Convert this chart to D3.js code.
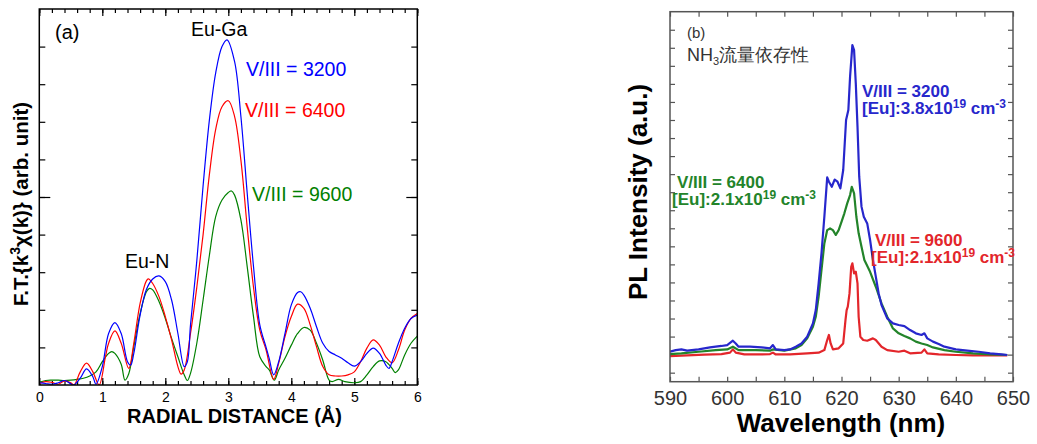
<!DOCTYPE html>
<html>
<head>
<meta charset="utf-8">
<script src="https://cdn.jsdelivr.net/npm/d3@7"></script>
<style>
  body { margin: 0; background: #fff; }
  svg { display: block; }
  text { font-family: "Liberation Sans", Arial, sans-serif; }
</style>
</head>
<body>
<div id="chart"></div>
<script>
// ---- panel (a) : EXAFS Fourier transform, [R (Å), F.T. amplitude] ----
var ftTicks = [0, 1, 2, 3, 4, 5, 6];
var ft3200 = [[0,0.06],[0.1,0.04],[0.2,0.02],[0.3,0.06],[0.4,0.12],[0.5,0.03],[0.55,0.0],[0.65,0.18],[0.75,0.43],[0.85,0.22],[0.9,0.02],[1.0,0.49],[1.1,1.37],[1.2,1.66],[1.3,1.37],[1.4,0.62],[1.45,0.53],[1.5,0.84],[1.6,1.86],[1.7,2.54],[1.8,2.82],[1.9,2.9],[2.0,2.75],[2.1,2.26],[2.2,1.37],[2.3,0.49],[2.35,0.62],[2.4,1.6],[2.5,3.3],[2.6,5.3],[2.7,7.05],[2.8,8.3],[2.9,9.0],[2.98,9.18],[3.1,8.6],[3.2,7.14],[3.3,5.1],[3.4,3.15],[3.5,1.6],[3.6,1.0],[3.65,0.7],[3.72,0.27],[3.8,0.62],[3.9,1.37],[4.0,2.13],[4.1,2.46],[4.15,2.48],[4.2,2.39],[4.3,2.04],[4.4,1.55],[4.5,1.11],[4.6,0.89],[4.7,0.8],[4.8,0.71],[4.9,0.59],[5.0,0.5],[5.1,0.62],[5.2,0.84],[5.3,0.98],[5.4,0.84],[5.5,0.53],[5.55,0.44],[5.6,0.62],[5.7,1.11],[5.8,1.51],[5.9,1.77],[6.0,1.86]];
var ft6400 = [[0,0.04],[0.1,0.09],[0.2,0.07],[0.3,0.02],[0.4,0.11],[0.5,0.06],[0.55,0.0],[0.65,0.35],[0.75,0.58],[0.85,0.35],[0.95,0.0],[1.05,0.75],[1.1,1.11],[1.2,1.44],[1.3,1.11],[1.42,0.44],[1.5,1.11],[1.6,2.17],[1.7,2.77],[1.73,2.82],[1.8,2.7],[1.9,2.35],[2.0,1.82],[2.1,1.2],[2.2,0.49],[2.25,0.29],[2.3,0.4],[2.4,1.37],[2.5,2.6],[2.6,4.0],[2.7,5.6],[2.8,6.8],[2.9,7.4],[3.0,7.56],[3.1,7.14],[3.2,5.98],[3.3,4.2],[3.4,2.6],[3.5,1.46],[3.6,0.93],[3.72,0.15],[3.8,0.58],[3.9,1.29],[4.0,1.82],[4.1,2.15],[4.2,2.04],[4.3,1.6],[4.4,1.02],[4.5,0.49],[4.6,0.27],[4.7,0.24],[4.8,0.24],[4.9,0.27],[5.0,0.35],[5.1,0.62],[5.2,0.98],[5.3,1.2],[5.4,1.06],[5.5,0.75],[5.6,0.59],[5.7,0.93],[5.8,1.46],[5.9,1.77],[6.0,1.9]];
var ft9600 = [[0,0.07],[0.1,0.12],[0.2,0.13],[0.3,0.13],[0.4,0.12],[0.5,0.13],[0.6,0.15],[0.7,0.18],[0.8,0.24],[0.9,0.35],[1.0,0.62],[1.1,0.84],[1.15,0.89],[1.2,0.84],[1.3,0.55],[1.36,0.13],[1.42,0.3],[1.5,1.02],[1.6,1.9],[1.7,2.48],[1.75,2.57],[1.8,2.53],[1.9,2.22],[2.0,1.77],[2.1,1.24],[2.2,0.75],[2.3,0.27],[2.35,0.12],[2.4,0.31],[2.5,1.11],[2.6,2.26],[2.7,3.45],[2.8,4.48],[2.9,4.92],[3.0,5.12],[3.05,5.16],[3.1,5.05],[3.2,4.39],[3.3,3.15],[3.4,1.82],[3.5,0.75],[3.6,0.49],[3.65,0.4],[3.73,0.13],[3.8,0.4],[3.9,0.71],[4.0,1.06],[4.1,1.37],[4.2,1.53],[4.3,1.46],[4.4,1.11],[4.5,0.66],[4.6,0.13],[4.65,0.09],[4.75,0.15],[4.85,0.09],[5.0,0.06],[5.1,0.09],[5.2,0.27],[5.3,0.49],[5.4,0.64],[5.5,0.62],[5.6,0.44],[5.65,0.33],[5.7,0.4],[5.8,0.8],[5.9,1.11],[6.0,1.3]];

// ---- panel (b) : PL spectra, [wavelength (nm), intensity] ----
var wlTicks = [590, 600, 610, 620, 630, 640, 650];
var pl3200 = [[590,1.16],[591,1.25],[592,1.29],[593,1.22],[595,1.29],[597,1.4],[599,1.48],[600,1.53],[601,1.77],[601.5,1.62],[602,1.44],[604,1.44],[606,1.4],[607.5,1.35],[608,1.53],[608.5,1.29],[610,1.25],[611,1.29],[612,1.44],[613,1.62],[614,1.99],[615,2.73],[615.5,3.47],[616,4.95],[616.5,6.61],[617,8.64],[617.5,10.82],[617.8,10.58],[618.3,10.3],[618.8,10.7],[619.3,10.58],[619.8,10.21],[620.3,11.23],[620.8,14.0],[621.2,14.55],[621.5,16.4],[621.9,18.15],[622.2,17.87],[622.5,16.03],[622.8,13.63],[623.1,10.86],[623.5,9.2],[623.9,8.64],[624.5,8.27],[625,7.35],[625.5,6.24],[626,5.32],[626.5,4.39],[627,3.75],[628,3.01],[629,2.73],[630,2.64],[631,2.58],[632,2.36],[633,2.18],[634,2.09],[634.5,2.18],[635,1.9],[636,1.72],[637,1.59],[638,1.44],[640,1.29],[642,1.22],[644,1.16],[646,1.07],[648,1.01],[649,0.98]];
var pl6400 = [[590,1.03],[592,1.07],[595,1.16],[598,1.25],[600,1.29],[601,1.44],[602,1.25],[605,1.25],[607.5,1.22],[608,1.29],[610,1.22],[612,1.35],[613,1.53],[614,1.9],[615,2.55],[615.5,3.1],[616,4.21],[616.5,5.69],[617,7.16],[617.5,7.9],[618,7.99],[618.5,7.9],[619,7.63],[619.5,7.9],[620,8.36],[620.5,8.83],[621,9.38],[621.5,9.84],[621.8,10.3],[622.2,9.93],[622.6,8.64],[623,7.72],[623.5,6.98],[624,6.24],[625,5.59],[626,4.76],[627,3.84],[628,3.1],[629,2.45],[630,2.18],[631,2.03],[632,1.9],[633,1.72],[634,1.62],[635,1.53],[636,1.4],[638,1.25],[640,1.16],[643,1.07],[646,1.01],[649,0.98]];
var pl9600 = [[590,0.92],[593,0.96],[596,1.0],[599,1.03],[600.5,1.11],[601,1.29],[601.5,1.11],[603,1.01],[606,1.01],[607.5,1.03],[608,1.11],[608.5,1.01],[611,1.01],[614,1.07],[616,1.11],[617,1.25],[617.5,1.81],[617.8,2.09],[618.1,1.62],[618.5,1.29],[619.5,1.35],[620.3,1.62],[620.7,2.92],[620.9,3.47],[621.1,3.66],[621.4,4.39],[621.7,5.87],[621.9,6.06],[622.2,5.5],[622.5,5.59],[622.8,4.95],[623,3.1],[623.3,1.99],[623.8,1.81],[624.5,1.77],[625.5,1.9],[626,1.81],[627,1.44],[628,1.25],[630,1.16],[631,1.22],[632,1.07],[634,1.11],[634.5,1.29],[635,1.07],[637,1.01],[640,0.98],[643,0.96],[646,0.96],[649,0.96]];

const W = 1037, H = 444;
const svg = d3.select("#chart").append("svg")
  .attr("width", W).attr("height", H);

// ======================= panel (a) =======================
const boxA = {left: 39.3, right: 417.3, top: 9, bottom: 385};
const xA = d3.scaleLinear().domain([0, 6]).range([boxA.left, boxA.right]);
const yA = d3.scaleLinear().domain([0, 10]).range([boxA.bottom, boxA.top]);
const gA = svg.append("g");

svg.append("clipPath").attr("id", "clipA").append("rect")
  .attr("x", boxA.left).attr("y", boxA.top)
  .attr("width", boxA.right - boxA.left).attr("height", boxA.bottom - boxA.top);

const minorA = d3.range(0, 31).map(function(i) { return i * 0.2; });
function styleAxis(g, col) {
  g.select(".domain").remove();
  g.selectAll(".tick line").attr("stroke", col).attr("stroke-width", 1.2);
}
// bottom + top ticks (inward)
gA.append("g").attr("transform", `translate(0,${boxA.bottom})`)
  .call(d3.axisBottom(xA).tickValues(minorA).tickSize(-4).tickFormat(""))
  .call(styleAxis, "#000");
gA.append("g").attr("transform", `translate(0,${boxA.bottom})`)
  .call(d3.axisBottom(xA).tickValues(ftTicks).tickSize(-7).tickPadding(7).tickFormat(d3.format("d")))
  .call(styleAxis, "#000")
  .selectAll("text").attr("font-size", 14).attr("fill", "#000");
gA.append("g").attr("transform", `translate(0,${boxA.top})`)
  .call(d3.axisTop(xA).tickValues(minorA).tickSize(-4).tickFormat(""))
  .call(styleAxis, "#000");
gA.append("g").attr("transform", `translate(0,${boxA.top})`)
  .call(d3.axisTop(xA).tickValues(ftTicks).tickSize(-7).tickFormat(""))
  .call(styleAxis, "#000");
gA.append("g").attr("transform", `translate(${boxA.left},0)`)
  .call(d3.axisLeft(yA).tickValues(d3.range(1, 10)).tickSize(-6).tickFormat(""))
  .call(styleAxis, "#000");
gA.append("g").attr("transform", `translate(${boxA.left},0)`)
  .call(d3.axisLeft(yA).tickValues([5]).tickSize(-11).tickFormat(""))
  .call(styleAxis, "#000");
gA.append("g").attr("transform", `translate(${boxA.right},0)`)
  .call(d3.axisRight(yA).tickValues(d3.range(1, 10)).tickSize(-6).tickFormat(""))
  .call(styleAxis, "#000");
gA.append("g").attr("transform", `translate(${boxA.right},0)`)
  .call(d3.axisRight(yA).tickValues([5]).tickSize(-11).tickFormat(""))
  .call(styleAxis, "#000");

const lineA = d3.line()
  .x(function(d) { return xA(d[0]); })
  .y(function(d) { return yA(d[1]); })
  .curve(d3.curveCatmullRom.alpha(0.5));

[[ft9600, "#008000"], [ft6400, "#ff0000"], [ft3200, "#0000ff"]].forEach(function(s) {
  gA.append("path").datum(s[0])
    .attr("clip-path", "url(#clipA)")
    .attr("fill", "none").attr("stroke", s[1]).attr("stroke-width", 1.2)
    .attr("d", lineA);
});

gA.append("rect")
  .attr("x", boxA.left).attr("y", boxA.top)
  .attr("width", boxA.right - boxA.left).attr("height", boxA.bottom - boxA.top)
  .attr("fill", "none").attr("stroke", "#000").attr("stroke-width", 1.5);

function label(g, x, y, txt, size, col, weight) {
  return g.append("text").attr("x", x).attr("y", y)
    .attr("font-size", size).attr("fill", col)
    .attr("font-weight", weight || "normal").text(txt);
}
label(gA, 55, 39, "(a)", 20, "#000");
label(gA, 191, 36, "Eu-Ga", 19.5, "#000");
label(gA, 125, 268, "Eu-N", 19.5, "#000");
label(gA, 246, 76, "V/III = 3200", 19.5, "#0000ff");
label(gA, 245, 117, "V/III = 6400", 19.5, "#ff0000");
label(gA, 252, 201, "V/III = 9600", 19.5, "#008000");

gA.append("text")
  .attr("x", 234.5).attr("y", 422.5)
  .attr("text-anchor", "middle").attr("font-size", 20).attr("font-weight", "bold")
  .text("RADIAL DISTANCE (Å)");

const yLabA = gA.append("text")
  .attr("transform", "translate(28,204) rotate(-90)")
  .attr("text-anchor", "middle").attr("font-size", 20.5).attr("font-weight", "bold");
yLabA.append("tspan").text("F.T.{k");
yLabA.append("tspan").attr("font-size", 14).attr("dy", -8).text("3");
yLabA.append("tspan").attr("dy", 8).text("χ(k)} (arb. unit)");

// ======================= panel (b) =======================
const boxB = {left: 670, right: 1013, top: 11.7, bottom: 381.7};
const xB = d3.scaleLinear().domain([590, 650]).range([boxB.left, boxB.right]);
const yB = d3.scaleLinear().domain([-0.5, 20]).range([boxB.bottom, boxB.top]);
const gB = svg.append("g");
const axCol = "#555";

svg.append("clipPath").attr("id", "clipB").append("rect")
  .attr("x", boxB.left).attr("y", boxB.top)
  .attr("width", boxB.right - boxB.left).attr("height", boxB.bottom - boxB.top);

const minorB = d3.range(590, 651, 5);
gB.append("g").attr("transform", `translate(0,${boxB.bottom})`)
  .call(d3.axisBottom(xB).tickValues(minorB).tickSize(-5).tickFormat(""))
  .call(styleAxis, axCol);
gB.append("g").attr("transform", `translate(0,${boxB.bottom})`)
  .call(d3.axisBottom(xB).tickValues(wlTicks).tickSize(0).tickPadding(9).tickFormat(d3.format("d")))
  .call(styleAxis, axCol)
  .selectAll("text").attr("font-size", 20).attr("fill", "#333");
gB.append("g").attr("transform", `translate(0,${boxB.top})`)
  .call(d3.axisTop(xB).tickValues(minorB).tickSize(-5).tickFormat(""))
  .call(styleAxis, axCol);
gB.append("g").attr("transform", `translate(${boxB.left},0)`)
  .call(d3.axisLeft(yB).tickValues(d3.range(0, 20)).tickSize(-5).tickFormat(""))
  .call(styleAxis, axCol);
gB.append("g").attr("transform", `translate(${boxB.right},0)`)
  .call(d3.axisRight(yB).tickValues(d3.range(0, 20)).tickSize(-5).tickFormat(""))
  .call(styleAxis, axCol);

const lineB = d3.line()
  .x(function(d) { return xB(d[0]); })
  .y(function(d) { return yB(d[1]); });

[[pl9600, "#e3262b"], [pl6400, "#23842a"], [pl3200, "#2727cc"]].forEach(function(s) {
  gB.append("path").datum(s[0])
    .attr("clip-path", "url(#clipB)")
    .attr("fill", "none").attr("stroke", s[1]).attr("stroke-width", 2.2)
    .attr("stroke-linejoin", "round")
    .attr("d", lineB);
});

gB.append("rect")
  .attr("x", boxB.left).attr("y", boxB.top)
  .attr("width", boxB.right - boxB.left).attr("height", boxB.bottom - boxB.top)
  .attr("fill", "none").attr("stroke", axCol).attr("stroke-width", 1.5);

label(gB, 687, 38, "(b)", 15, "#333");
const nh3 = gB.append("text").attr("x", 687).attr("y", 61)
  .attr("font-size", 18).attr("fill", "#333")
  .attr("font-family", "'Noto Sans CJK JP', 'Liberation Sans', sans-serif");
nh3.append("tspan").text("NH");
nh3.append("tspan").attr("font-size", 11).attr("dy", 4).text("3");
nh3.append("tspan").attr("dy", -4).text("流量依存性");

function euLabel(x, y, conc, col) {
  const t = gB.append("text").attr("x", x).attr("y", y)
    .attr("font-size", 17).attr("font-weight", "bold").attr("fill", col);
  t.append("tspan").text("[Eu]:" + conc + "x10");
  t.append("tspan").attr("font-size", 12).attr("dy", -6).text("19");
  t.append("tspan").attr("dy", 6).text(" cm");
  t.append("tspan").attr("font-size", 12).attr("dy", -6).text("-3");
}
label(gB, 862, 97, "V/III = 3200", 17, "#2727cc", "bold");
euLabel(862, 114, "3.8", "#2727cc");
label(gB, 677, 188, "V/III = 6400", 17, "#23842a", "bold");
euLabel(672, 205, "2.1", "#23842a");
label(gB, 875, 246, "V/III = 9600", 17, "#e3262b", "bold");
euLabel(871, 263, "2.1", "#e3262b");

gB.append("text")
  .attr("x", 841).attr("y", 432)
  .attr("text-anchor", "middle").attr("font-size", 26).attr("font-weight", "bold")
  .text("Wavelength (nm)");
gB.append("text")
  .attr("transform", "translate(647,192) rotate(-90)")
  .attr("text-anchor", "middle").attr("font-size", 26).attr("font-weight", "bold")
  .text("PL Intensity (a.u.)");
</script>
</body>
</html>
